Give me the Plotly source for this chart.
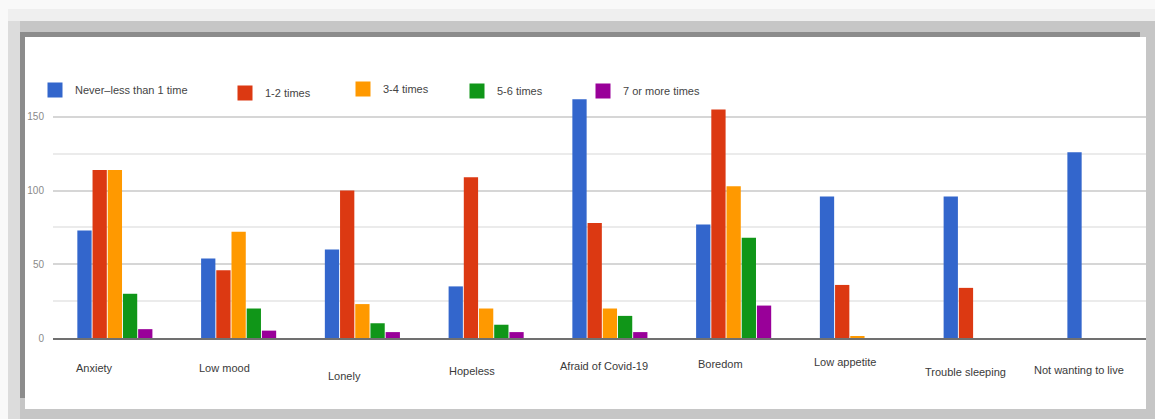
import plotly.graph_objects as go

# Survey answers: how often each feeling was reported
categories = ["Anxiety", "Low mood", "Lonely", "Hopeless", "Afraid of Covid-19",
              "Boredom", "Low appetite", "Trouble sleeping", "Not wanting to live"]
series_names = ["Never\u2013less than 1 time", "1-2 times", "3-4 times",
                "5-6 times", "7 or more times"]
never_less_than_once = [73, 54, 60, 35, 162, 77, 96, 96, 126]
one_two_times = [114, 46, 100, 109, 78, 155, 36, 34, 0]
three_four_times = [114, 72, 23, 20, 20, 103, 1, 0, 0]
five_six_times = [30, 20, 10, 9, 15, 68, 0, 0, 0]
seven_or_more = [6, 5, 4, 4, 4, 22, 0, 0, 0]
y_tick_values = [0, 50, 100, 150]

series_values = [never_less_than_once, one_two_times, three_four_times,
                 five_six_times, seven_or_more]
colors = ["#3366cc", "#dc3912", "#ff9900", "#109618", "#990099"]

# Page geometry (pixels)
W, H = 1155, 419
ML, MR, MT, MB = 53, 9, 80, 81
PW, PH = W - ML - MR, H - MT - MB


def px_x(px):
    return (px - ML) / PW


def px_y(py):
    return (H - MB - py) / PH


FONT = "Liberation Sans, Arial, sans-serif"

fig = go.Figure()

for name, vals, col in zip(series_names, series_values, colors):
    fig.add_trace(go.Bar(x=categories, y=vals, name=name, marker_color=col,
                         marker_line_width=0, showlegend=False))

# Legend keys, one legend box per series
legend_ids = ["legend", "legend2", "legend3", "legend4", "legend5"]
legend_left_px = [35, 225, 343, 457, 583]
legend_mid_px = [90, 93, 89, 91, 91]
for name, col, lid in zip(series_names, colors, legend_ids):
    fig.add_trace(go.Scatter(x=[None], y=[None], mode="markers", name=name,
                             marker=dict(symbol="square", size=15, color=col,
                                         line=dict(width=0)),
                             legend=lid, showlegend=True))

legend_layout = {}
for lid, lx, ly in zip(legend_ids, legend_left_px, legend_mid_px):
    legend_layout[lid] = dict(x=px_x(lx), y=px_y(ly), xanchor="left", yanchor="middle",
                              orientation="h", bgcolor="rgba(0,0,0,0)",
                              borderwidth=0,
                              font=dict(family=FONT, size=11, color="#444444"))

# Category labels under the axis
label_dx = [-20, -14, -18, -14, -6, -13, -12, -16, -26]
label_dy = [30, 30, 38, 33, 28, 26, 24, 34, 32]
annotations = []
for cat, dx, dy in zip(categories, label_dx, label_dy):
    annotations.append(dict(x=cat, xref="x", y=0, yref="y", xshift=dx, yshift=-dy,
                            text=cat, showarrow=False, xanchor="center", yanchor="middle",
                            font=dict(family=FONT, size=11, color="#3a3a3a")))

# Screenshot-style frame around the chart panel
frame = [
    ((8, 9, 1155, 419), "#efefef"),
    ((8, 21, 1155, 419), "#dcdcdc"),
    ((20, 21, 1155, 419), "#c6c6c6"),
    ((20, 32, 1140, 398), "#8c8c8c"),
    ((25, 37, 1146, 409), "#ffffff"),
]
shapes = []
for (x0, y0, x1, y1), col in frame:
    shapes.append(dict(type="rect", xref="paper", yref="paper",
                       x0=px_x(x0), x1=px_x(x1), y0=px_y(y1), y1=px_y(y0),
                       fillcolor=col, line=dict(width=0), layer="below"))

fig.update_layout(
    width=W, height=H,
    margin=dict(l=ML, r=MR, t=MT, b=MB, pad=0),
    paper_bgcolor="#f9f9f9",
    plot_bgcolor="rgba(0,0,0,0)",
    barmode="group", bargap=0.386, bargroupgap=0.06,
    shapes=shapes,
    annotations=annotations,
    **legend_layout,
)

fig.update_xaxes(range=[-0.5, 8.332], showgrid=False, showticklabels=False,
                 showline=True, linecolor="#707070", linewidth=2, ticks="",
                 zeroline=False, fixedrange=True)
fig.update_yaxes(range=[0, 175], tickmode="array", tickvals=y_tick_values,
                 ticktext=[str(v) for v in y_tick_values],
                 showgrid=True, gridcolor="#d6d6d6", gridwidth=1.5,
                 minor=dict(tickmode="array", tickvals=[25, 75, 125],
                            showgrid=True, gridcolor="#ebebeb", gridwidth=1.5),
                 zeroline=False, showline=False, ticks="", ticklabelstandoff=8,
                 tickfont=dict(family=FONT, size=10, color="#8a8a8a"),
                 fixedrange=True)

fig.write_html("out.html")
